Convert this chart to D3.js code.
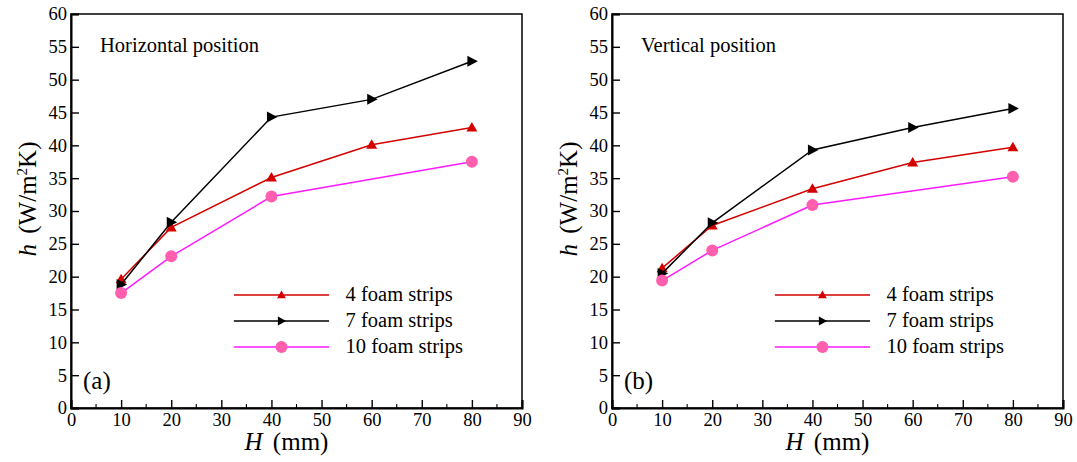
<!DOCTYPE html>
<html>
<head>
<meta charset="utf-8">
<script src="https://cdn.jsdelivr.net/npm/d3@7"></script>
<style>
  html, body { margin: 0; padding: 0; background: #fff; }
  svg text { font-family: "Liberation Serif", "Times New Roman", serif; fill: #000; }
</style>
</head>
<body>
<svg id="chart" width="1077" height="462"></svg>
<script>
// Heat transfer coefficient h versus foam strip height H
const heights = [10, 20, 40, 60, 80];
const heightsTen = [10, 20, 40, 80];

const horiz4 = [19.6, 27.5, 35.1, 40.1, 42.7];
const horiz7 = [18.8, 28.3, 44.3, 47.0, 52.8];
const horiz10 = [17.5, 23.1, 32.2, 37.5];

const vert4 = [21.3, 27.8, 33.4, 37.4, 39.7];
const vert7 = [20.5, 28.2, 39.3, 42.7, 45.6];
const vert10 = [19.4, 24.0, 30.9, 35.2];

const xTicks = [0, 10, 20, 30, 40, 50, 60, 70, 80, 90];
const yTicks = [0, 5, 10, 15, 20, 25, 30, 35, 40, 45, 50, 55, 60];
const seriesNames = ["4 foam strips", "7 foam strips", "10 foam strips"];

const styles = [
  { line: "#d40000", fill: "#d40000", marker: "triangle" },
  { line: "#000000", fill: "#000000", marker: "arrow" },
  { line: "#ff1aff", fill: "#ff5fae", marker: "circle" }
];

const panels = [
  { left: 71, title: "Horizontal position", tag: "(a)",
    series: [[heights, horiz4], [heights, horiz7], [heightsTen, horiz10]] },
  { left: 612, title: "Vertical position", tag: "(b)",
    series: [[heights, vert4], [heights, vert7], [heightsTen, vert10]] }
];

const svg = d3.select("#chart");
const plotW = 451, plotTop = 14, plotBottom = 408;
const serif = "Liberation Serif";

function drawMarker(g, type, x, y, fill, s = 1) {
  if (type === "circle") {
    g.append("circle").attr("cx", x).attr("cy", y).attr("r", 6).attr("fill", fill);
  } else if (type === "triangle") {
    g.append("path")
      .attr("d", `M${x},${y - 5.5 * s}L${x + 5.5 * s},${y + 4 * s}L${x - 5.5 * s},${y + 4 * s}Z`)
      .attr("fill", fill);
  } else {
    g.append("path")
      .attr("d", `M${x + 6 * s},${y}L${x - 4.5 * s},${y - 5.5 * s}L${x - 4.5 * s},${y + 5.5 * s}Z`)
      .attr("fill", fill);
  }
}

panels.forEach(p => {
  const x = d3.scaleLinear().domain([0, 90]).range([p.left, p.left + plotW]);
  const y = d3.scaleLinear().domain([0, 60]).range([plotBottom, plotTop]);
  const g = svg.append("g");

  // frame
  g.append("rect").attr("x", p.left).attr("y", plotTop).attr("width", plotW).attr("height", plotBottom - plotTop)
    .attr("fill", "none").attr("stroke", "#000").attr("stroke-width", 1.5);

  // bottom axis: inward ticks
  const xAxis = d3.axisBottom(x).tickValues(xTicks).tickSize(-8).tickPadding(5).tickFormat(d3.format("d"));
  const gx = g.append("g").attr("transform", `translate(0,${plotBottom})`).call(xAxis);
  gx.attr("font-family", serif);
  gx.select(".domain").attr("stroke-width", 2);
  gx.selectAll(".tick line").attr("stroke-width", 1.4);
  gx.selectAll(".tick text").attr("font-size", 18.5);
  // minor ticks
  g.append("g").selectAll("line").data(d3.range(5, 90, 10)).join("line")
    .attr("x1", d => x(d)).attr("x2", d => x(d)).attr("y1", plotBottom).attr("y2", plotBottom - 4)
    .attr("stroke", "#000").attr("stroke-width", 1.1);

  // left axis: inward ticks
  const yAxis = d3.axisLeft(y).tickValues(yTicks).tickSize(-8).tickPadding(4).tickFormat(d3.format("d"));
  const gy = g.append("g").attr("transform", `translate(${p.left},0)`).call(yAxis);
  gy.attr("font-family", serif);
  gy.select(".domain").attr("stroke-width", 2);
  gy.selectAll(".tick line").attr("stroke-width", 1.4);
  gy.selectAll(".tick text").attr("font-size", 18.5);

  // series
  const line = d3.line();
  p.series.forEach((s, i) => {
    const pts = s[0].map((h, k) => [x(h), y(s[1][k])]);
    g.append("path").attr("d", line(pts)).attr("fill", "none")
      .attr("stroke", styles[i].line).attr("stroke-width", 1.5);
    pts.forEach(pt => drawMarker(g, styles[i].marker, pt[0], pt[1], styles[i].fill));
  });

  // legend
  const lx0 = x(32.5), lx1 = x(51.5), lmx = x(42);
  seriesNames.forEach((name, i) => {
    const ly = 295 + i * 26;
    g.append("line").attr("x1", lx0).attr("x2", lx1).attr("y1", ly).attr("y2", ly)
      .attr("stroke", styles[i].line).attr("stroke-width", 1.5);
    drawMarker(g, styles[i].marker, lmx, ly, styles[i].fill, 0.8);
    g.append("text").attr("x", x(54.8)).attr("y", ly + 6).attr("font-size", 20.5).text(name);
  });

  // annotations
  g.append("text").attr("x", x(5.8)).attr("y", 52).attr("font-size", 20.5).text(p.title);
  g.append("text").attr("x", x(2.4)).attr("y", 389).attr("font-size", 25).text(p.tag);

  // axis titles
  const xt = g.append("text").attr("x", x(43)).attr("y", 450).attr("text-anchor", "middle").attr("font-size", 25);
  xt.append("tspan").attr("font-style", "italic").text("H");
  xt.append("tspan").attr("dx", 4).text(" (mm)");

  const yt = g.append("text").attr("transform", `translate(${p.left - 35},199) rotate(-90)`)
    .attr("text-anchor", "middle").attr("font-size", 25);
  yt.append("tspan").attr("font-style", "italic").text("h");
  yt.append("tspan").attr("dx", 4).text(" (W/m");
  yt.append("tspan").attr("font-size", 15).attr("dy", -9).text("2");
  yt.append("tspan").attr("dy", 9).text("K)");
});
</script>
</body>
</html>
